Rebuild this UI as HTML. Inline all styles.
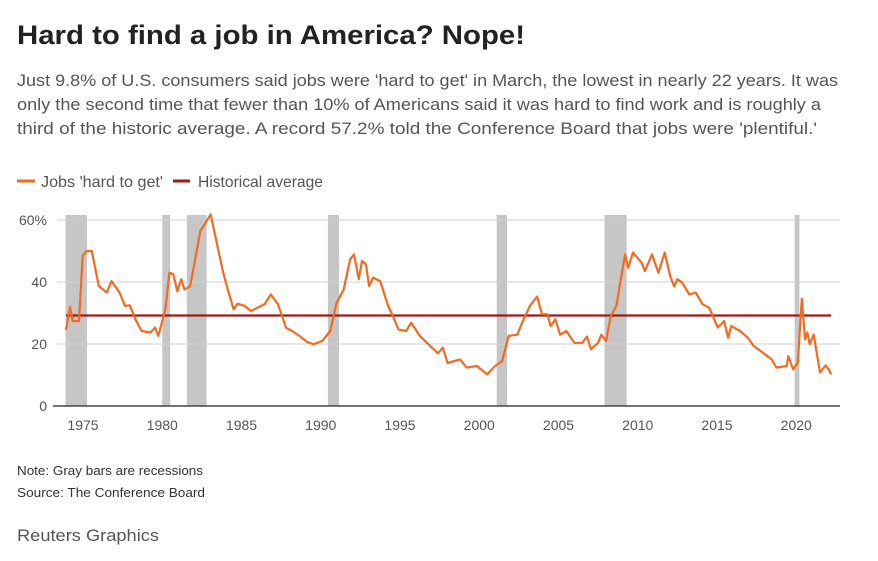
<!DOCTYPE html>
<html><head><meta charset="utf-8"><style>
html,body{margin:0;padding:0;background:#fff;width:878px;height:561px;overflow:hidden}
text{font-family:"Liberation Sans",sans-serif}
</style></head><body>
<svg id="chart" width="878" height="561" viewBox="0 0 878 561" xmlns="http://www.w3.org/2000/svg">
<text x="17" y="44" font-size="27" font-weight="bold" fill="#222" textLength="508" lengthAdjust="spacingAndGlyphs">Hard to find a job in America? Nope!</text>
<g font-size="17" fill="#555">
<text x="17" y="86" textLength="821" lengthAdjust="spacingAndGlyphs">Just 9.8% of U.S. consumers said jobs were 'hard to get' in March, the lowest in nearly 22 years. It was</text>
<text x="17" y="110" textLength="804" lengthAdjust="spacingAndGlyphs">only the second time that fewer than 10% of Americans said it was hard to find work and is roughly a</text>
<text x="17" y="134" textLength="800" lengthAdjust="spacingAndGlyphs">third of the historic average. A record 57.2% told the Conference Board that jobs were 'plentiful.'</text>
</g>
<g font-size="16" fill="#555">
<line x1="17" y1="181" x2="35" y2="181" stroke="#f26b21" stroke-width="3"/>
<text x="41" y="187" textLength="122" lengthAdjust="spacingAndGlyphs">Jobs 'hard to get'</text>
<line x1="173" y1="181" x2="190" y2="181" stroke="#9b1b1b" stroke-width="3"/>
<text x="198" y="187" textLength="125" lengthAdjust="spacingAndGlyphs">Historical average</text>
</g>
<g id="plot"></g>
<text x="17" y="475" font-size="13" fill="#333" textLength="186" lengthAdjust="spacingAndGlyphs">Note: Gray bars are recessions</text>
<text x="17" y="497" font-size="13" fill="#333" textLength="188" lengthAdjust="spacingAndGlyphs">Source: The Conference Board</text>
<text x="17" y="541" font-size="17" fill="#555" textLength="142" lengthAdjust="spacingAndGlyphs">Reuters Graphics</text>
</svg>
<script>
const years = [1973.93,1974.18,1974.35,1974.75,1974.98,1975.23,1975.55,1976.0,1976.5,1976.8,1977.3,1977.65,1977.95,1978.3,1978.7,1979.25,1979.55,1979.75,1980.2,1980.45,1980.7,1980.95,1981.2,1981.4,1981.75,1982.1,1982.4,1982.6,1983.05,1983.35,1983.8,1984.1,1984.5,1984.75,1985.2,1985.6,1986.0,1986.45,1986.85,1987.3,1987.8,1988.2,1988.65,1989.15,1989.55,1990.1,1990.6,1991.0,1991.45,1991.85,1992.1,1992.4,1992.6,1992.85,1993.05,1993.3,1993.75,1994.25,1994.55,1994.9,1995.4,1995.7,1996.25,1996.9,1997.4,1997.7,1998.0,1998.4,1998.8,1999.2,1999.85,2000.5,2001.0,2001.45,2001.85,2002.4,2002.8,2003.2,2003.65,2003.95,2004.3,2004.5,2004.8,2005.1,2005.5,2006.0,2006.5,2006.8,2007.05,2007.5,2007.7,2008.0,2008.3,2008.65,2008.95,2009.2,2009.4,2009.7,2010.25,2010.45,2010.9,2011.3,2011.7,2012.05,2012.3,2012.5,2012.8,2013.25,2013.65,2014.1,2014.5,2015.05,2015.45,2015.7,2015.9,2016.45,2016.95,2017.3,2017.9,2018.45,2018.75,2019.4,2019.5,2019.8,2020.1,2020.35,2020.55,2020.7,2020.85,2021.1,2021.5,2021.85,2022.05,2022.2];
const hardToGet = [24.5,32,27.4,27.4,48.4,50,50,38.7,36.6,40.3,36.6,32.3,32.5,28,24.2,23.7,25.3,22.6,31.2,43,42.5,37,40.9,37.6,38.5,47.8,56.5,58,61.8,54.8,44,38.2,31.2,33,32.3,30.6,31.7,32.8,36,32.8,25.3,24.2,22.6,20.6,19.9,21,24.2,33.3,37.6,47.3,48.9,40.9,46.8,45.7,38.7,41.4,40.3,32.3,29,24.7,24.2,26.9,22.6,19.4,17,18.8,13.8,14.5,15,12.4,12.9,10.2,12.9,14.5,22.6,23,28,32.3,35.3,29.6,29.6,25.8,28,23,24.2,20.4,20.4,22.4,18.3,20.4,23,21,29,32.3,41.4,48.9,44.6,49.5,46.2,43.5,48.9,43,49.5,41.9,38.5,40.9,39.8,36,36.6,32.8,31.7,25.3,27.4,22,25.8,24.2,22,19.4,17.2,15,12.4,12.9,16.1,11.8,14,34.6,21.5,23.7,19.9,23,10.8,13.1,11.8,10.2];
const historicalAverage = 29.2;
const recessionStarts = [1973.9,1980.0,1981.55,1990.45,2001.1,2007.9,2019.9];
const recessionEnds = [1975.25,1980.5,1982.8,1991.15,2001.75,2009.3,2020.2];
const yTicks = [0,20,40,60];
const yTickLabels = ["0","20","40","60%"];
const xTicks = [1975,1980,1985,1990,1995,2000,2005,2010,2015,2020];

const NS='http://www.w3.org/2000/svg';
const plot=document.getElementById('plot');
const X0=57, X1=840, Y0=406;
function xs(y){return 83+(y-1975)*15.85;}
function ys(v){return Y0-v*3.1;}
function mk(t,a){const e=document.createElementNS(NS,t);for(const k in a)e.setAttribute(k,a[k]);plot.appendChild(e);return e;}

recessionStarts.forEach((s,i)=>{
  const r=mk('rect',{x:xs(s),y:215,width:xs(recessionEnds[i])-xs(s),height:Y0-215,fill:'#c6c6c6'});
  
  
});
yTicks.forEach((v,i)=>{
  if(v>0){const g=mk('line',{x1:X0,x2:X1,y1:ys(v),y2:ys(v),stroke:'#d0d0d0','stroke-width':1});
  
  }
  const t=mk('text',{x:47,y:ys(v)+5,'text-anchor':'end','font-size':14,fill:'#555'});
  t.textContent=yTickLabels[i];
  
  
});
const ax=mk('line',{x1:X0-4,x2:X1,y1:Y0,y2:Y0,stroke:'#444','stroke-width':1.5});


xTicks.forEach(y=>{
  const t=mk('text',{x:xs(y),y:430,'text-anchor':'middle','font-size':14,fill:'#555'});
  t.textContent=String(y);
  
  
});
const avg=mk('line',{x1:xs(years[0]),x2:xs(years[years.length-1]),y1:ys(historicalAverage),y2:ys(historicalAverage),stroke:'#9b1b1b','stroke-width':2.2});


const d=years.map((y,i)=>(i?'L':'M')+xs(y).toFixed(1)+','+ys(hardToGet[i]).toFixed(1)).join('');
const p=mk('path',{d:d,fill:'none',stroke:'#f26b21','stroke-width':2.2,'stroke-linejoin':'round'});


</script>
</body></html>
